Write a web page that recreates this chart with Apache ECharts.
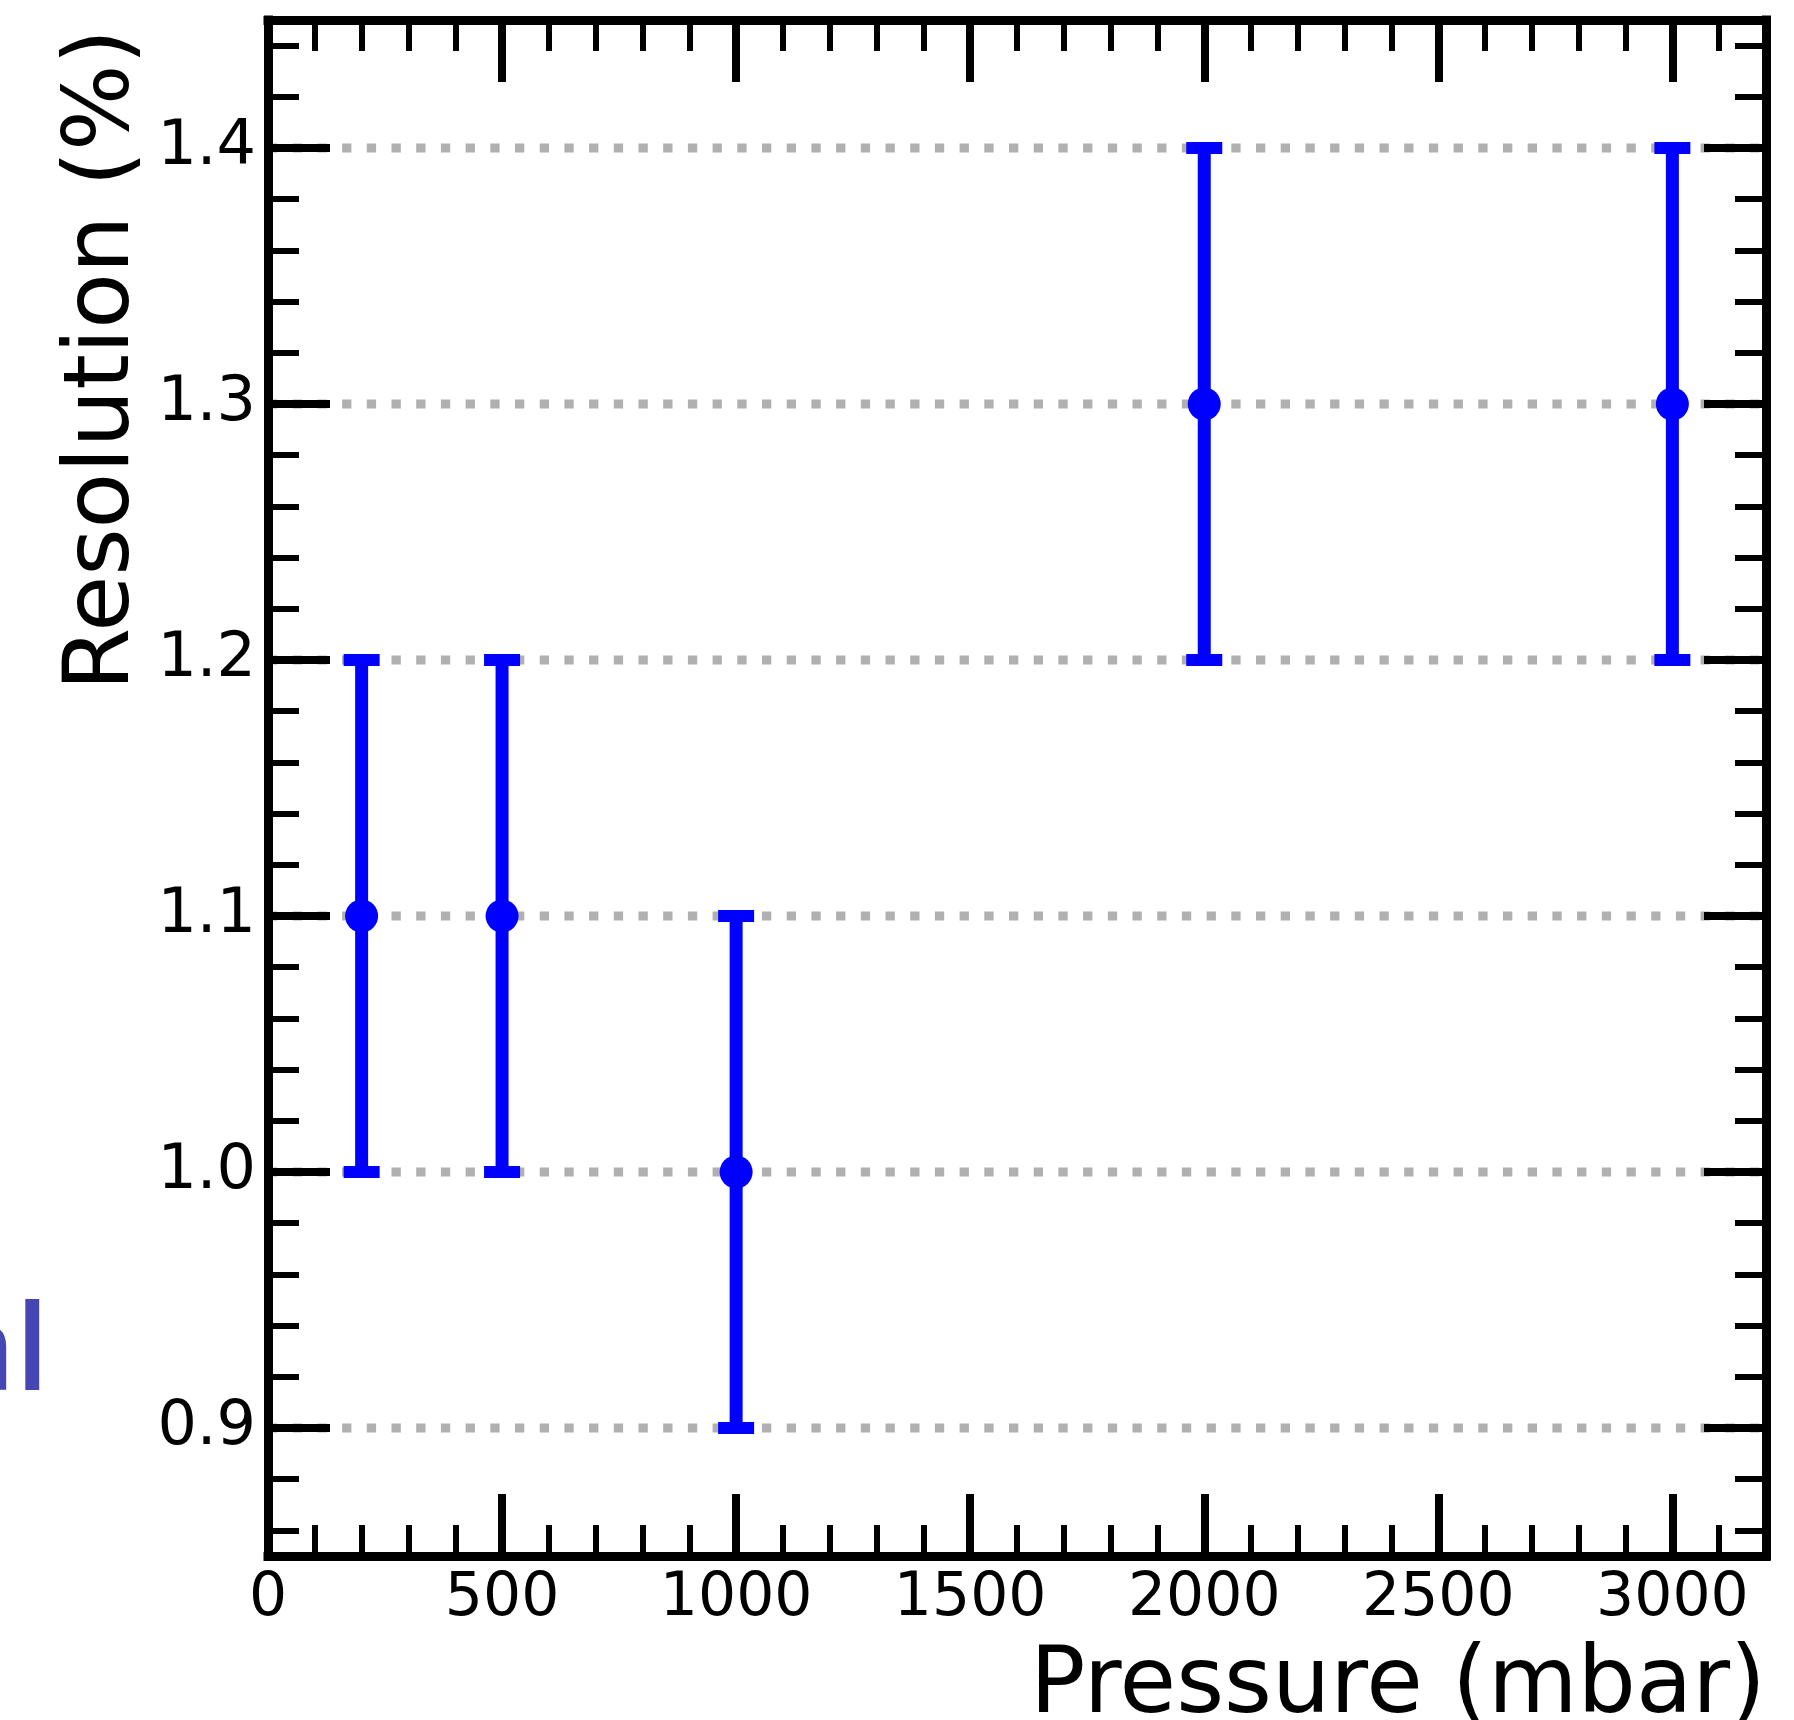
<!DOCTYPE html>
<html>
<head>
<meta charset="utf-8">
<title>Resolution vs Pressure</title>
<script src="https://cdn.jsdelivr.net/npm/echarts@6/dist/echarts.min.js"></script>
<style>
  html, body { margin: 0; padding: 0; background: #ffffff; }
  #chart { width: 1794px; height: 1720px; }
</style>
</head>
<body>
<div id="chart"></div>
<script>
// Measured energy resolution at each gas pressure, with symmetric errors
const pressure = [200, 500, 1000, 2000, 3000];
const resolution = [1.1, 1.1, 1.0, 1.3, 1.3];
const resolutionErr = [0.1, 0.1, 0.1, 0.1, 0.1];

// Axis ticks
const xMajorTicks = [0, 500, 1000, 1500, 2000, 2500, 3000];
const xMinorTicks = [100, 200, 300, 400, 600, 700, 800, 900, 1100, 1200, 1300, 1400,
  1600, 1700, 1800, 1900, 2100, 2200, 2300, 2400, 2600, 2700, 2800, 2900, 3100];
const yMajorTicks = [0.9, 1.0, 1.1, 1.2, 1.3, 1.4];
const yMinorTicks = [0.86, 0.88, 0.92, 0.94, 0.96, 0.98, 1.02, 1.04, 1.06, 1.08,
  1.12, 1.14, 1.16, 1.18, 1.22, 1.24, 1.26, 1.28, 1.32, 1.34, 1.36, 1.38, 1.42, 1.44];
const xLabelText = ['0', '500', '1000', '1500', '2000', '2500', '3000'];
const yLabelText = ['0.9', '1.0', '1.1', '1.2', '1.3', '1.4'];

const X_MIN = 0, X_MAX = 3200, Y_MIN = 0.85, Y_MAX = 1.45;
const FONT = '"DejaVu Sans", sans-serif';
const BLUE = '#0000ff';

const chart = echarts.init(document.getElementById('chart'), null, { renderer: 'canvas' });

function tickAxis(base, values, len, width, withLine, labels) {
  return Object.assign({
    type: 'value',
    z: 3,
    axisLine: withLine
      ? { show: true, onZero: false, lineStyle: { color: '#000', width: 9, cap: 'square' } }
      : { show: false, onZero: false },
    axisTick: { show: true, inside: true, length: len, customValues: values,
      lineStyle: { color: '#000', width: width } },
    axisLabel: labels ? labels : { show: false },
    splitLine: { show: false },
    minorTick: { show: false },
    minorSplitLine: { show: false }
  }, base);
}

const xBottomLabels = {
  show: true, customValues: xMajorTicks, margin: 13,
  fontFamily: FONT, fontSize: 60, color: '#000',
  formatter: v => xLabelText[xMajorTicks.indexOf(v)] ?? String(v)
};
const yLeftLabels = {
  show: true, customValues: yMajorTicks, margin: 12,
  fontFamily: FONT, fontSize: 62, color: '#000',
  formatter: v => {
    const i = yMajorTicks.findIndex(t => Math.abs(t - v) < 1e-9);
    return i >= 0 ? yLabelText[i] : v.toFixed(1);
  }
};

const xAxes = [
  tickAxis({ position: 'bottom', min: X_MIN, max: X_MAX }, xMajorTicks, 62, 8, true, xBottomLabels),
  tickAxis({ position: 'bottom', min: X_MIN, max: X_MAX }, xMinorTicks, 31, 6, false),
  tickAxis({ position: 'top', min: X_MIN, max: X_MAX }, xMajorTicks, 62, 8, true),
  tickAxis({ position: 'top', min: X_MIN, max: X_MAX }, xMinorTicks, 31, 6, false)
];
const yAxes = [
  tickAxis({ position: 'left', min: Y_MIN, max: Y_MAX }, yMajorTicks, 62, 8, true, yLeftLabels),
  tickAxis({ position: 'left', min: Y_MIN, max: Y_MAX }, yMinorTicks, 31, 6, false),
  tickAxis({ position: 'right', min: Y_MIN, max: Y_MAX }, yMajorTicks, 62, 8, true),
  tickAxis({ position: 'right', min: Y_MIN, max: Y_MAX }, yMinorTicks, 31, 6, false)
];

const option = {
  animation: false,
  backgroundColor: '#ffffff',
  grid: { left: 268, top: 20, right: 28, bottom: 164, containLabel: false, outerBoundsMode: 'none' },
  xAxis: xAxes,
  yAxis: yAxes,
  graphic: [
    {
      type: 'text', x: 1766, y: 1688, z: 10,
      style: { text: 'Pressure (mbar)', font: '92px ' + FONT, fill: '#000',
        align: 'right', verticalAlign: 'middle', textAlign: 'right', textVerticalAlign: 'middle' }
    },
    {
      type: 'text', x: 104, y: 360, rotation: Math.PI / 2, z: 10,
      style: { text: 'Resolution (%)', font: '91px ' + FONT, fill: '#000',
        align: 'center', verticalAlign: 'middle', textAlign: 'center', textVerticalAlign: 'middle' }
    },
    {
      type: 'text', x: 49, y: 1356, z: 10,
      style: { text: 'al', font: '600 120px "Open Sans", sans-serif', fill: '#4646b4',
        align: 'right', verticalAlign: 'middle', textAlign: 'right', textVerticalAlign: 'middle' }
    }
  ],
  series: [
    {
      // dotted horizontal grid at each major y tick
      type: 'custom',
      z: 1,
      silent: true,
      xAxisIndex: 0, yAxisIndex: 0,
      data: yMajorTicks.map(v => [v]),
      renderItem: function (params, api) {
        const y = api.value(0);
        const p1 = api.coord([X_MIN, y]);
        const p2 = api.coord([X_MAX, y]);
        return {
          type: 'line',
          shape: { x1: p1[0], y1: p1[1], x2: p2[0], y2: p2[1] },
          style: { stroke: '#b0b0b0', lineWidth: 9, lineDash: [9.3, 15.4], lineCap: 'butt' }
        };
      }
    },
    {
      // vertical error bars with caps
      type: 'custom',
      z: 5,
      silent: true,
      xAxisIndex: 0, yAxisIndex: 0,
      data: pressure.map((p, i) => [p, resolution[i] - resolutionErr[i], resolution[i] + resolutionErr[i]]),
      renderItem: function (params, api) {
        const x = api.value(0);
        const lo = api.coord([x, api.value(1)]);
        const hi = api.coord([x, api.value(2)]);
        const capHalf = 18;
        const style = { stroke: BLUE, lineCap: 'butt' };
        return {
          type: 'group',
          children: [
            { type: 'line', shape: { x1: lo[0], y1: lo[1], x2: hi[0], y2: hi[1] },
              style: Object.assign({ lineWidth: 13 }, style) },
            { type: 'line', shape: { x1: hi[0] - capHalf, y1: hi[1], x2: hi[0] + capHalf, y2: hi[1] },
              style: Object.assign({ lineWidth: 12 }, style) },
            { type: 'line', shape: { x1: lo[0] - capHalf, y1: lo[1], x2: lo[0] + capHalf, y2: lo[1] },
              style: Object.assign({ lineWidth: 12 }, style) }
          ]
        };
      }
    },
    {
      type: 'scatter',
      z: 6,
      xAxisIndex: 0, yAxisIndex: 0,
      symbol: 'circle',
      symbolSize: 33,
      itemStyle: { color: BLUE, opacity: 1 },
      data: pressure.map((p, i) => [p, resolution[i]])
    }
  ]
};

chart.setOption(option);
</script>
</body>
</html>
